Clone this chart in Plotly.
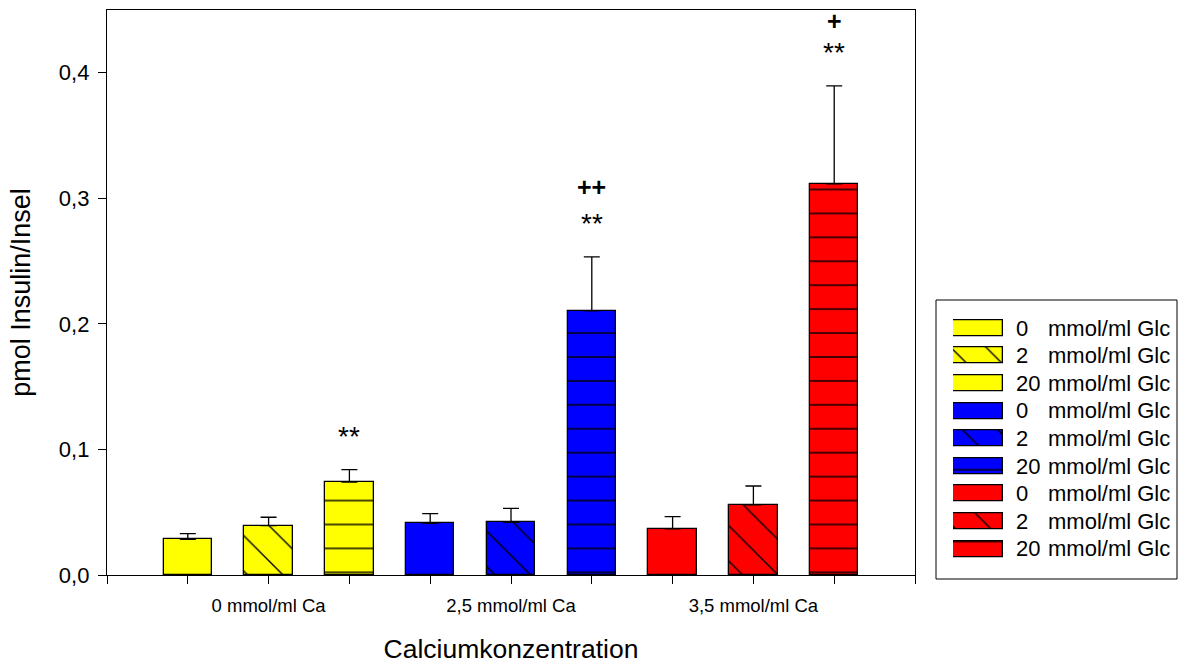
import plotly.graph_objects as go

# ---------------- data ----------------
ca_labels = ["0 mmol/ml Ca", "2,5 mmol/ml Ca", "3,5 mmol/ml Ca"]
glc_levels = ["0", "2", "20"]
glc_unit = "mmol/ml Glc"
x_title = "Calciumkonzentration"
y_title = "pmol Insulin/Insel"

group_colors = ["#FFFF00", "#0000FF", "#FF0000"]
level_patterns = ["", "\\", "-"]
level_pattern_sizes = [25, 25, 23.93]
level_pattern_solidity = [0.055, 0.055, 0.06]

insulin_0ca = [0.0284, 0.0393, 0.0739]
insulin_25ca = [0.0412, 0.0420, 0.2104]
insulin_35ca = [0.0367, 0.0558, 0.3116]
sem_0ca = [0.0045, 0.0067, 0.0100]
sem_25ca = [0.0077, 0.0111, 0.0430]
sem_35ca = [0.0098, 0.0151, 0.0780]

stars = ["", "", "**", "", "", "**", "", "", "**"]
plus = ["", "", "", "", "", "++", "", "", "+"]

y_ticks = [0.0, 0.1, 0.2, 0.3, 0.4]

# ---------------- assemble ----------------
group_means = [insulin_0ca, insulin_25ca, insulin_35ca]
group_sems = [sem_0ca, sem_25ca, sem_35ca]

ca_pos = [3 * g + 2 for g in range(3)]
tickvals = list(range(0, 11))
ticktext = [ca_labels[ca_pos.index(v)] if v in ca_pos else "" for v in tickvals]

FONT = "Liberation Sans, Arial, sans-serif"

fig = go.Figure()
xpos_all, means_all, sems_all = [], [], []
for g in range(3):
    xs = [3 * g + j + 1 for j in range(3)]
    xpos_all += xs
    means_all += group_means[g]
    sems_all += group_sems[g]
    pat = dict(shape=level_patterns, fillmode="replace", fgcolor="black",
               bgcolor=group_colors[g], fgopacity=1,
               size=level_pattern_sizes, solidity=level_pattern_solidity)
    fig.add_trace(go.Bar(
        x=xs, y=group_means[g], width=0.6,
        marker=dict(color=group_colors[g], line=dict(color="black", width=1.3), pattern=pat),
        error_y=dict(type="data", symmetric=False, array=group_sems[g],
                     arrayminus=[0] * 3, color="black", thickness=1.3, width=8),
        showlegend=False, hoverinfo="skip",
    ))
    # custom legend swatches (small horizontal bar chart on its own axes)
    fig.add_trace(go.Bar(
        y=[3 * g + j for j in range(3)], x=[1] * 3, orientation="h", width=0.58,
        xaxis="x2", yaxis="y2",
        marker=dict(color=group_colors[g], line=dict(color="black", width=1.3), pattern=pat),
        showlegend=False, hoverinfo="skip",
    ))

W, H = 1191, 664
ML, MR, MT, MB = 107, 10, 10, 89
pw = W - ML - MR
ph = H - MT - MB


def px_x(p):
    return (p - ML) / pw


def px_y(p):
    return (H - MB - p) / ph


plus_shift = {"++": 70, "+": 65}

annotations = []
for i in range(9):
    top = means_all[i] + sems_all[i]
    if stars[i]:
        annotations.append(dict(x=xpos_all[i], y=top, xref="x", yref="y", text=stars[i],
                                showarrow=False, yanchor="middle", yshift=33,
                                font=dict(size=28, color="black", family=FONT)))
    if plus[i]:
        annotations.append(dict(x=xpos_all[i], y=top, xref="x", yref="y",
                                text="<b>" + plus[i] + "</b>",
                                showarrow=False, yanchor="middle", yshift=plus_shift[plus[i]],
                                font=dict(size=25, color="black", family=FONT)))

row0, row_step = 328, 27.6
for r in range(9):
    cy = px_y(row0 + r * row_step)
    annotations.append(dict(x=px_x(1014), y=cy, xref="paper", yref="paper",
                            text=glc_levels[r % 3], showarrow=False, xanchor="left",
                            yanchor="middle", font=dict(size=22, color="black", family=FONT)))
    annotations.append(dict(x=px_x(1046), y=cy, xref="paper", yref="paper",
                            text=glc_unit, showarrow=False, xanchor="left",
                            yanchor="middle", font=dict(size=22, color="black", family=FONT)))

shapes_ = [dict(type="rect", xref="paper", yref="paper",
                x0=px_x(936), x1=px_x(1177), y0=px_y(579), y1=px_y(300),
                line=dict(color="black", width=1), fillcolor="rgba(0,0,0,0)")]

fig.update_layout(
    width=W, height=H,
    margin=dict(l=ML, r=MR, t=MT, b=MB),
    paper_bgcolor="white", plot_bgcolor="white",
    separators=",.",
    font=dict(family=FONT, color="black"),
    annotations=annotations, shapes=shapes_,
    xaxis=dict(domain=[0, px_x(915)], range=[0, 10], tickvals=tickvals, ticktext=ticktext,
               showline=True, linecolor="black", linewidth=1.3, mirror=True,
               ticks="outside", ticklen=8, tickwidth=1.3, tickcolor="black",
               showgrid=False, zeroline=False, tickangle=0, automargin=False,
               tickfont=dict(size=18.5, family=FONT), ticklabelstandoff=6,
               title=dict(text=x_title, font=dict(size=26.5, family=FONT), standoff=28)),
    yaxis=dict(range=[0, 0.45], tickvals=y_ticks, tickformat=".1f",
               showline=True, linecolor="black", linewidth=1.3, mirror=True,
               ticks="outside", ticklen=8, tickwidth=1.3, tickcolor="black",
               showgrid=False, zeroline=False, automargin=False,
               tickfont=dict(size=22, family=FONT), ticklabelstandoff=4,
               title=dict(text=y_title, font=dict(size=27, family=FONT), standoff=20)),
    xaxis2=dict(domain=[px_x(953), px_x(1003)], range=[0, 1], visible=False,
                anchor="y2", fixedrange=True),
    yaxis2=dict(domain=[px_y(row0 + 8 * row_step + row_step / 2), px_y(row0 - row_step / 2)],
                range=[8.5, -0.5], visible=False, anchor="x2", fixedrange=True),
    barmode="overlay", bargap=0,
)

fig.write_html("out.html")
